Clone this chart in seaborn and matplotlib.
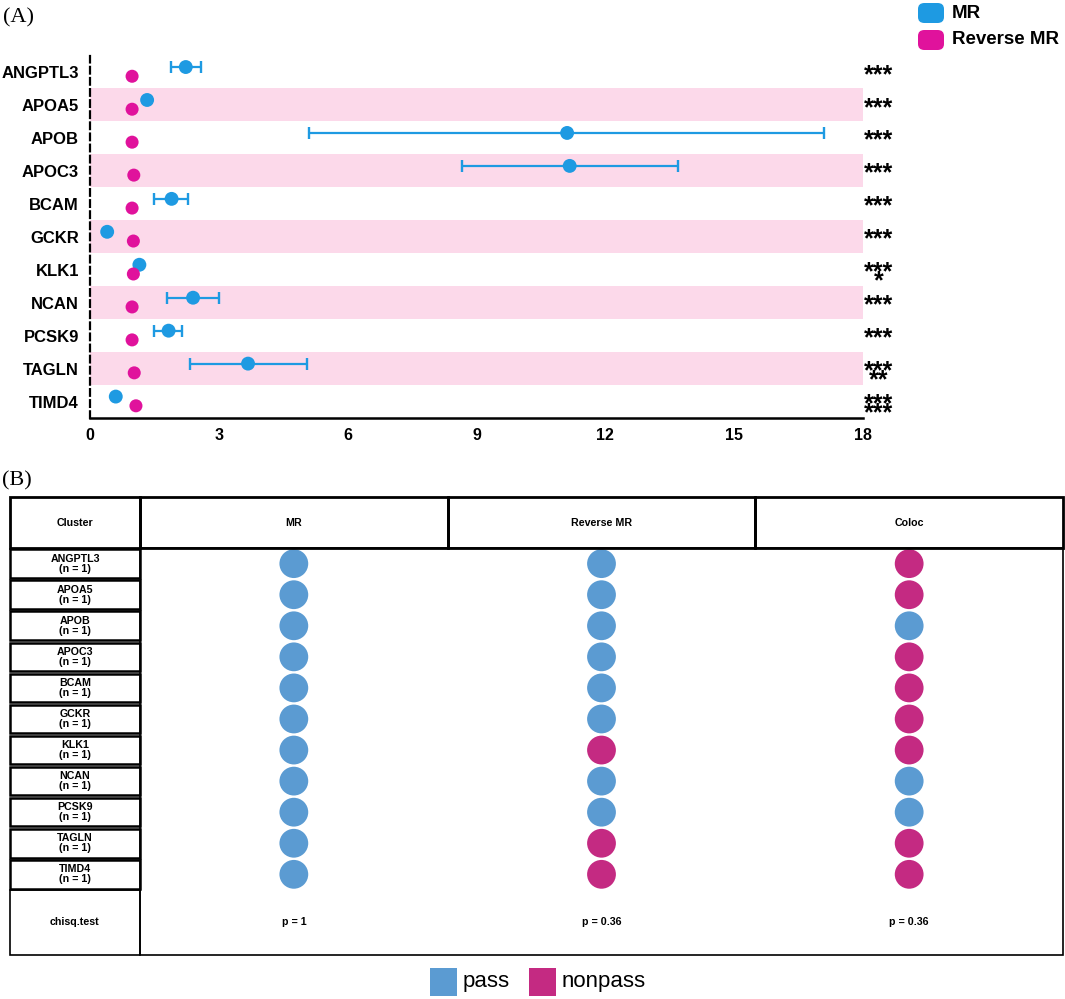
import matplotlib
matplotlib.use("Agg")
import matplotlib.pyplot as plt
import seaborn as sns
import numpy as np
import pandas as pd
from matplotlib.patches import Rectangle, FancyBboxPatch

# ---------------- data ----------------
genes = ["ANGPTL3", "APOA5", "APOB", "APOC3", "BCAM", "GCKR",
         "KLK1", "NCAN", "PCSK9", "TAGLN", "TIMD4"]
mr_or = [2.23, 1.33, 11.11, 11.17, 1.90, 0.40, 1.15, 2.40, 1.83, 3.68, 0.60]
mr_lo = [1.88, 1.30, 5.11, 8.67, 1.50, 0.38, 1.12, 1.80, 1.49, 2.32, 0.57]
mr_hi = [2.58, 1.36, 17.10, 13.69, 2.29, 0.42, 1.18, 3.01, 2.15, 5.05, 0.63]
rev_or = [0.98, 0.98, 0.98, 1.02, 0.98, 1.01, 1.01, 0.98, 0.98, 1.03, 1.07]
mr_stars = ["***"] * 11
rev_stars = ["", "", "", "", "", "", "*", "", "", "**", "***"]
xticks = [0, 3, 6, 9, 12, 15, 18]

methods = ["MR", "Reverse MR", "Coloc"]
mr_status = ["pass"] * 11
rev_status = ["pass", "pass", "pass", "pass", "pass", "pass",
              "nonpass", "pass", "pass", "nonpass", "nonpass"]
coloc_status = ["nonpass", "nonpass", "pass", "nonpass", "nonpass", "nonpass",
                "nonpass", "pass", "pass", "nonpass", "nonpass"]
n_counts = [1] * 11
pvals = ["p = 1", "p = 0.36", "p = 0.36"]

# ---------------- style ----------------
sns.set_style("white")
plt.rcParams['font.family'] = ['Liberation Sans', 'DejaVu Sans']
plt.rcParams['text.color'] = 'black'
plt.rcParams['axes.labelcolor'] = 'black'
plt.rcParams['xtick.color'] = 'black'
plt.rcParams['ytick.color'] = 'black'

BLUE = "#1E9AE2"
MAGENTA = "#E0129C"
PINK = "#FCD9EA"
PASS = "#5B9BD2"
NONPASS = "#C42A82"

W, H = 1065, 999
fig = plt.figure(figsize=(W / 100, H / 100), dpi=100)


def fa(x0, y0, x1, y1):
    return [x0 / W, 1 - y1 / H, (x1 - x0) / W, (y1 - y0) / H]


# ---------------- panel A ----------------
axA = fig.add_axes(fa(90, 55.5, 863, 418))
ypos = np.arange(len(genes))
mr_or_a = np.array(mr_or)
for i in range(1, len(genes), 2):
    axA.axhspan(i - 0.5, i + 0.5, color=PINK, zorder=0, lw=0)

axA.errorbar(mr_or_a, ypos - 0.15,
             xerr=[mr_or_a - np.array(mr_lo), np.array(mr_hi) - mr_or_a],
             fmt='none', ecolor=BLUE, elinewidth=1.6, capsize=4.0,
             capthick=1.7, zorder=2)
sns.scatterplot(x=mr_or_a, y=ypos - 0.15, color=BLUE, s=100,
                edgecolor='none', ax=axA, zorder=3)
sns.scatterplot(x=rev_or, y=ypos + 0.13, color=MAGENTA, s=88,
                edgecolor='none', ax=axA, zorder=3)

for i in range(len(genes)):
    axA.text(18.37, i + 0.30, mr_stars[i], ha='center', va='baseline',
             fontsize=18, fontweight='bold', color='black', clip_on=False)
    if rev_stars[i]:
        axA.text(18.37, i + 0.57, rev_stars[i], ha='center', va='baseline',
                 fontsize=18, fontweight='bold', color='black', clip_on=False)

axA.set_xlim(0, 18)
axA.set_ylim(len(genes) - 0.5, -0.5)
axA.set_xticks(xticks)
axA.set_xticklabels([str(t) for t in xticks], fontsize=11.5, fontweight='bold')
axA.set_yticks(ypos)
axA.set_yticklabels(genes, fontsize=12, fontweight='bold')
axA.tick_params(axis='y', length=0, pad=8, labelcolor='black')
axA.tick_params(axis='x', direction='out', length=4, width=1.6, pad=3,
                color='black', labelcolor='black')
axA.set_xlabel("")
axA.set_ylabel("")
for s in ['top', 'right']:
    axA.spines[s].set_visible(False)
axA.spines['left'].set_linestyle((0, (3, 2)))
axA.spines['left'].set_linewidth(1.6)
axA.spines['left'].set_color('black')
axA.spines['bottom'].set_linewidth(1.8)
axA.spines['bottom'].set_color('black')

fig.text(3 / W, 1 - 18 / H, "(A)", fontsize=16, family=['Liberation Serif', 'DejaVu Serif'],
         ha='left', va='center', color='black')

# top-right legend
for k, (lab, col) in enumerate([("MR", BLUE), ("Reverse MR", MAGENTA)]):
    y0 = 3 + k * 27
    fig.add_artist(FancyBboxPatch((918 / W, 1 - (y0 + 20) / H), 26 / W, 20 / H,
                                  boxstyle="round,pad=0,rounding_size=0.006",
                                  transform=fig.transFigure, facecolor=col,
                                  edgecolor='none'))
    fig.text(952 / W, 1 - (y0 + 10) / H, lab, fontsize=13.5, fontweight='bold',
             ha='left', va='center', color='black')

# ---------------- panel B ----------------
row_px = 31.0
col_px = 307.67
clus_w = 130 / col_px
head_h = 51 / row_px
chi_h = 65 / row_px
x_left = -0.5 - clus_w
y_top = -0.5 - head_h
y_bot = len(genes) - 0.5 + chi_h

axB = fig.add_axes(fa(10, 497, 1063, 955))
axB.set_xlim(x_left, len(methods) - 0.5)
axB.set_ylim(y_bot, y_top)
axB.axis('off')

status_lists = [mr_status, rev_status, coloc_status]
df = pd.DataFrame({
    "gene": genes * 3,
    "yi": list(range(len(genes))) * 3,
    "xi": np.repeat(np.arange(len(methods)), len(genes)),
    "status": sum(status_lists, []),
})
sns.scatterplot(data=df, x="xi", y="yi", hue="status",
                palette={"pass": PASS, "nonpass": NONPASS}, s=430,
                edgecolor='none', legend=False, ax=axB, zorder=3)

# header cells
hc = [(x_left, clus_w, "Cluster")] + [(j - 0.5, 1.0, m) for j, m in enumerate(methods)]
for x0, w, lab in hc:
    axB.add_patch(Rectangle((x0, y_top), w, head_h, fill=False, lw=2.0,
                            edgecolor='black', zorder=4, clip_on=False))
    axB.text(x0 + w / 2, y_top + head_h / 2, lab, ha='center', va='center',
             fontsize=7.7, fontweight='bold', color='black')

# cluster row cells
for i, g in enumerate(genes):
    axB.add_patch(Rectangle((x_left, i - 0.5 + 0.04), clus_w, 0.92, fill=False,
                            lw=1.8, edgecolor='black', zorder=4, clip_on=False))
    axB.text(x_left + clus_w / 2, i, f"{g}\n(n = {n_counts[i]})", ha='center',
             va='center', fontsize=7.7, fontweight='bold', linespacing=1.0,
             color='black')

# chisq row and body outline
axB.add_patch(Rectangle((x_left, len(genes) - 0.5), clus_w, chi_h, fill=False,
                        lw=1.2, edgecolor='black', zorder=4, clip_on=False))
axB.text(x_left + clus_w / 2, len(genes) - 0.5 + chi_h / 2, "chisq.test",
         ha='center', va='center', fontsize=7.7, fontweight='bold', color='black')
axB.add_patch(Rectangle((-0.5, -0.5), len(methods), len(genes) + chi_h, fill=False,
                        lw=1.2, edgecolor='black', zorder=4, clip_on=False))
for j, p in enumerate(pvals):
    axB.text(j, len(genes) - 0.5 + chi_h / 2, p, ha='center', va='center',
             fontsize=7.7, fontweight='bold', color='black')

fig.text(2 / W, 1 - 481 / H, "(B)", fontsize=16, family=['Liberation Serif', 'DejaVu Serif'],
         ha='left', va='center', color='black')

# bottom legend
for x0, col, lab in [(430, PASS, "pass"), (529, NONPASS, "nonpass")]:
    fig.add_artist(Rectangle((x0 / W, 1 - 996 / H), 27 / W, 28 / H,
                             transform=fig.transFigure, facecolor=col,
                             edgecolor='none'))
    fig.text((x0 + 33) / W, 1 - 981 / H, lab, fontsize=16,
             ha='left', va='center', color='black')

fig.savefig("out.png", dpi=100)
